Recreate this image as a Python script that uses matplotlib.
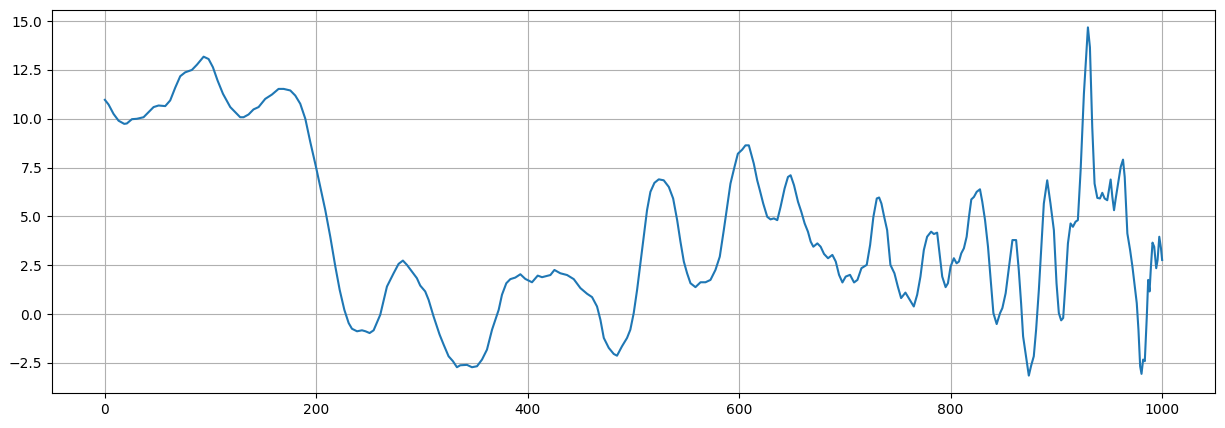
import matplotlib
matplotlib.use("Agg")
import matplotlib.pyplot as plt

x_vals = [0, 3.5, 8.2, 13, 18.3, 20.8, 25.6, 30.3, 36.6, 41.3, 46.1, 50.8, 57.1, 61.8, 66.6,
          71.3, 76, 82.3, 87.1, 93.4, 98.1, 102.2, 106.6, 111.7, 118.6, 123.3, 128, 131.2,
          135.9, 140.6, 145.4, 151.7, 158, 164.3, 169.1, 175.4, 180.1, 184.8, 189.6, 194.3,
          199.7, 204.4, 208.5, 213.2, 218, 222.1, 226.5, 230.6, 233.7, 238.5, 243.2, 246.5,
          250.4, 254.2, 260.5, 266.8, 273.1, 277.8, 281.9, 285.7, 290.4, 295.1, 298.3, 303,
          306.2, 310.9, 316.6, 320.4, 325.1, 329.2, 333, 336.2, 342.5, 347.2, 352, 356.7,
          361.4, 366.2, 372.5, 375.6, 379.7, 383.5, 388.2, 393, 397.7, 404, 409.4, 413.5,
          421.4, 425.2, 430.8, 437.2, 443.5, 449.8, 456.1, 460.8, 465.5, 468.7, 471.9, 476.6,
          481.3, 484.4, 489.1, 493.9, 497, 500.2, 503.4, 506.5, 509.7, 512.8, 516, 519.8,
          523.9, 528.6, 533.4, 537.5, 541.3, 544.4, 547.6, 550.7, 553.9, 558.6, 563.4, 568.1,
          572.8, 577.5, 581.6, 585.4, 588.6, 591.7, 595.5, 598.7, 602.8, 605.9, 609.1, 613.8,
          617, 619.5, 622.7, 626.5, 629.6, 632.8, 636, 639.1, 642.9, 646.1, 648.6, 651.8,
          655.6, 658.7, 661.9, 665, 667.6, 670.1, 673.9, 677, 680.2, 684, 688.1, 691.3, 694.4,
          697.6, 700.7, 704.8, 708.6, 711.8, 715.6, 720.6, 723.8, 726.9, 730.1, 732.3, 734.5,
          737.1, 739.9, 743, 746.8, 750, 753.1, 757.2, 761.3, 765.1, 768.3, 771.4, 774.6,
          777.7, 781.5, 784.1, 787.2, 789.8, 792, 795.2, 797.4, 799.9, 803, 805.6, 807.8, 810,
          812.5, 815.1, 817.3, 819.5, 822, 824.6, 827.7, 829.9, 832.5, 835.3, 837.8, 840.4,
          843.5, 846.7, 848.9, 852, 855.2, 858.4, 861.9, 864.4, 866.6, 868.5, 870.8, 873.9,
          876.1, 878.6, 880.8, 883.4, 885.6, 888.1, 891.3, 894.4, 897.6, 900.1, 902.3, 904.5,
          906.4, 908.6, 910.9, 913.4, 915.6, 918.1, 920.3, 922.9, 926, 929.8, 931.7, 933.9,
          936.1, 938.7, 941.2, 943.4, 945.6, 948.1, 951.3, 952.9, 954.5, 956.1, 958.3, 960.8,
          963, 964.6, 967.1, 969.7, 971.9, 974.1, 976, 977.6, 979.2, 980.5, 982, 983.6, 985.5,
          986.8, 988.1, 989.4, 990.9, 992.5, 994.4, 995.7, 997.3, 998.9, 1000]

y_vals = [10.97, 10.73, 10.25, 9.9, 9.74, 9.76, 9.98, 10.0, 10.08, 10.34, 10.6, 10.68, 10.65,
          10.94, 11.6, 12.18, 12.38, 12.5, 12.77, 13.18, 13.06, 12.64, 11.96, 11.28, 10.6,
          10.34, 10.08, 10.08, 10.22, 10.48, 10.6, 11.02, 11.24, 11.53, 11.53, 11.45, 11.19,
          10.77, 10.0, 8.81, 7.53, 6.34, 5.32, 3.96, 2.43, 1.24, 0.22, -0.46, -0.75, -0.88,
          -0.83, -0.88, -0.97, -0.83, -0.03, 1.41, 2.09, 2.57, 2.74, 2.52, 2.18, 1.84, 1.46,
          1.16, 0.73, -0.12, -1.05, -1.56, -2.16, -2.41, -2.72, -2.62, -2.6, -2.72, -2.67,
          -2.33, -1.82, -0.8, 0.22, 0.99, 1.58, 1.79, 1.87, 2.04, 1.8, 1.63, 1.97, 1.89, 2.0,
          2.26, 2.09, 2.0, 1.79, 1.33, 1.04, 0.87, 0.39, -0.29, -1.22, -1.73, -2.04, -2.13,
          -1.65, -1.22, -0.8, 0.05, 1.24, 2.6, 3.96, 5.32, 6.26, 6.72, 6.9, 6.85, 6.51, 5.92,
          4.81, 3.71, 2.69, 2.09, 1.58, 1.38, 1.63, 1.63, 1.75, 2.26, 2.94, 4.3, 5.49, 6.68,
          7.53, 8.21, 8.42, 8.64, 8.64, 7.7, 6.85, 6.34, 5.66, 4.98, 4.85, 4.9, 4.81, 5.49,
          6.43, 7.02, 7.11, 6.6, 5.75, 5.24, 4.64, 4.22, 3.71, 3.45, 3.62, 3.45, 3.08, 2.86,
          3.03, 2.69, 2.01, 1.62, 1.92, 2.01, 1.62, 1.75, 2.35, 2.52, 3.54, 4.98, 5.92, 5.97,
          5.66, 4.98, 4.3, 2.52, 2.09, 1.41, 0.82, 1.1, 0.73, 0.39, 0.99, 1.92, 3.28, 3.96,
          4.22, 4.1, 4.17, 2.94, 1.92, 1.38, 1.58, 2.43, 2.86, 2.6, 2.69, 3.11, 3.37, 3.96,
          4.98, 5.87, 6.0, 6.26, 6.39, 5.75, 4.81, 3.45, 1.75, 0.05, -0.51, 0.05, 0.31, 1.07,
          2.43, 3.79, 3.79, 2.26, 0.56, -1.14, -1.99, -3.15, -2.64, -2.16, -0.8, 1.24, 3.28,
          5.66, 6.85, 5.66, 4.3, 1.58, 0.05, -0.32, -0.2, 1.58, 3.62, 4.64, 4.47, 4.73, 4.81,
          7.36, 11.28, 14.68, 13.66, 9.57, 6.68, 5.95, 5.92, 6.21, 5.92, 5.83, 6.89, 6.0, 5.32,
          5.92, 6.68, 7.53, 7.91, 7.02, 4.13, 3.28, 2.43, 1.41, 0.56, -0.8, -2.67, -3.06,
          -2.33, -2.41, -0.12, 1.75, 1.16, 2.43, 3.66, 3.45, 2.35, 2.77, 3.96, 3.37, 2.77]

fig = plt.figure(figsize=(12.25, 4.28), dpi=100)
ax = fig.add_axes([52 / 1225, 1 - 393 / 428, (1215 - 52) / 1225, (393 - 10) / 428])
ax.plot(x_vals, y_vals, color="#1f77b4", linewidth=1.5)
ax.set_xlim(-50, 1050)
ax.set_ylim(-4.04, 15.57)
ax.grid(True)
fig.savefig("out.png", dpi=100)
